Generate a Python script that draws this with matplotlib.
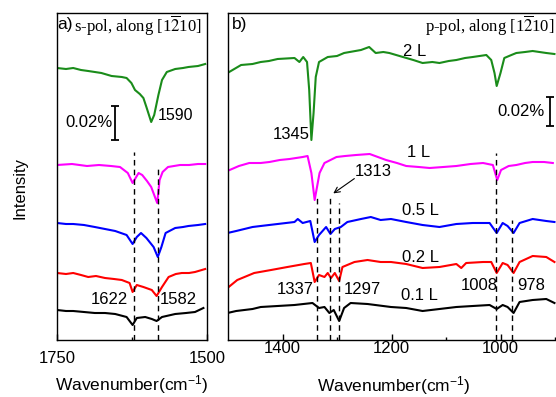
import numpy as np
import matplotlib.pyplot as plt

plt.rcParams['font.family'] = ['Liberation Sans', 'DejaVu Sans']
plt.rcParams['mathtext.fontset'] = 'custom'
plt.rcParams['mathtext.rm'] = 'Liberation Sans'
plt.rcParams['mathtext.it'] = 'Liberation Sans:italic'

# ---- panel a: s-pol, 1750-1500 cm-1 (values relative to each trace's own baseline) ----
wn_a_green = [1750, 1735, 1723, 1710, 1698, 1676, 1659, 1642, 1634, 1626, 1620, 1612, 1606, 1601, 1593, 1588, 1581,
              1575, 1567, 1553, 1540, 1531, 1515, 1503]
int_a_green = [2, 1, 2, 0, -1, -3, -6, -7, -8, -13, -20, -24, -28, -37, -52, -45, -25,
               -10, -2, 1, 2, 3, 4, 6]

wn_a_mag = [1750, 1725, 1700, 1680, 1660, 1645, 1632, 1624, 1618, 1614, 1608, 1600, 1593, 1588, 1583, 1579, 1574,
            1565, 1545, 1530, 1515, 1503]
int_a_mag = [0, 1, -1, 0, -1, -2, -8, -18, -12, -8, -10, -16, -22, -30, -38, -15, -7,
             -2, 0, 0, 1, 1]

wn_a_blue = [1750, 1735, 1723, 1705, 1687, 1670, 1653, 1634, 1624, 1617, 1610, 1601, 1589, 1582, 1576, 1569, 1553,
             1540, 1531, 1515, 1503]
int_a_blue = [2, 1, 1, 0, -2, -4, -6, -10, -19, -12, -8, -13, -22, -32, -22, -8, -3,
              -2, -1, 0, 1]

wn_a_red = [1750, 1735, 1723, 1710, 1698, 1685, 1670, 1655, 1642, 1629, 1624, 1617, 1606, 1592, 1584, 1575, 1564,
            1552, 1542, 1530, 1520, 1503]
int_a_red = [2, 1, 2, 0, -2, -1, -3, -4, -5, -8, -17, -10, -12, -15, -21, -12, -2,
             1, 2, 2, 3, 6]

wn_a_black = [1750, 1735, 1723, 1705, 1687, 1670, 1653, 1634, 1624, 1617, 1603, 1592, 1584, 1575, 1553, 1535, 1520, 1506]
int_a_black = [2, 1, 1, 0, -1, -1, -2, -5, -13, -6, -5, -7, -9, -5, -2, -1, 0, 4]

# ---- panel b: p-pol, 1500-900 cm-1 ----
wn_b_green = [1501, 1476, 1455, 1440, 1425, 1409, 1378, 1369, 1362, 1355, 1351, 1347, 1343, 1339, 1333, 1317, 1300,
              1287, 1256, 1241, 1229, 1215, 1204, 1179, 1160, 1143, 1125, 1112, 1095, 1081, 1065, 1051, 1026, 1017,
              1011, 1007, 1000, 993, 980, 971, 955, 941, 916, 901]
int_b_green = [-13, -5, -4, -2, -1, 1, 2, -2, 3, -2, -30, -80, -53, -17, -2, 3, 4,
               7, 10, 13, 7, 8, 7, 3, 0, -3, -2, -3, -1, 0, 2, 3, 5, 0,
               -13, -26, -13, 2, 5, 7, 8, 9, 7, 6]

wn_b_mag = [1497, 1480, 1461, 1440, 1424, 1405, 1387, 1363, 1354, 1347, 1341, 1332, 1323, 1301, 1285, 1265, 1240,
            1225, 1210, 1190, 1173, 1150, 1130, 1105, 1081, 1055, 1032, 1014, 1006, 999, 985, 971, 955, 941, 920, 904]
int_b_mag = [-8, -4, -1, -1, 0, 2, 3, 5, 6, -11, -38, -11, -1, 5, 6, 7, 8,
             5, 2, -1, -4, -5, -6, -5, -4, -2, -1, -3, -18, -8, -4, -3, -1, 0, 0, -1]

wn_b_blue = [1501, 1485, 1470, 1455, 1440, 1409, 1378, 1372, 1363, 1349, 1341, 1333, 1320, 1312, 1304, 1293, 1281,
             1256, 1238, 1220, 1201, 1173, 1143, 1112, 1081, 1051, 1020, 1007, 996, 987, 976, 965, 941, 916, 901]
int_b_blue = [-8, -6, -4, -2, -1, 1, 3, 6, 2, 4, -17, -10, -2, -9, -4, -2, 3,
              6, 8, 5, 6, 3, 0, -2, 1, 2, 2, -8, 2, -1, -8, 2, 6, 4, 3]

wn_b_red = [1501, 1483, 1452, 1421, 1391, 1360, 1348, 1341, 1333, 1323, 1317, 1311, 1304, 1296, 1290, 1268, 1244,
            1220, 1201, 1173, 1143, 1112, 1081, 1072, 1063, 1032, 1017, 1007, 996, 987, 976, 965, 941, 916, 901]
int_b_red = [-18, -10, -3, 0, 3, 6, 7, -12, -5, -7, -3, -8, -3, -11, 3, 8, 10,
             8, 8, 6, 2, 3, 6, 2, 7, 8, 8, -3, 7, 5, -3, 8, 14, 13, 8]

wn_b_black = [1501, 1485, 1470, 1455, 1440, 1409, 1378, 1345, 1333, 1323, 1314, 1306, 1296, 1287, 1275, 1244, 1201,
              1173, 1143, 1112, 1081, 1051, 1020, 1007, 996, 987, 976, 965, 941, 916, 901]
int_b_black = [-5, -3, -2, -1, 1, 2, 3, 5, 0, 1, -5, -2, -13, 0, 5, 4, 1,
               0, -3, -1, 1, 2, 3, -1, 3, 1, -5, 6, 8, 9, 5]

labels_b = ['2 L', '1 L', '0.5 L', '0.2 L', '0.1 L']
peaks_a = [1622, 1582]
peaks_b = [1337, 1313, 1297, 1008, 978]

colors = ['#1a8c1a', '#ff00ff', '#0000ff', '#ff0000', '#000000']
offs_a = [270, 175, 115, 65, 28]
offs_b = [280, 178, 115, 70, 32]

fig = plt.figure(figsize=(5.56, 3.97), dpi=100)
axa = fig.add_axes([57/556, 57/397, 150/556, 327/397])
axb = fig.add_axes([228/556, 57/397, 332/556, 327/397])

series_a = [(wn_a_green, int_a_green), (wn_a_mag, int_a_mag), (wn_a_blue, int_a_blue),
            (wn_a_red, int_a_red), (wn_a_black, int_a_black)]
series_b = [(wn_b_green, int_b_green), (wn_b_mag, int_b_mag), (wn_b_blue, int_b_blue),
            (wn_b_red, int_b_red), (wn_b_black, int_b_black)]

for (w, v), c, o in zip(series_a, colors, offs_a):
    axa.plot(w, np.array(v) + o, color=c, lw=1.5)
for (w, v), c, o in zip(series_b, colors, offs_b):
    axb.plot(w, np.array(v) + o, color=c, lw=1.5)

# dashed guide lines
tops_a = [188, 172]
for p, t in zip(peaks_a, tops_a):
    axa.plot([p, p], [0, t], color='k', ls=(0, (4, 3)), lw=1)
tops_b = [142, 145, 137, 187, 120]
for p, t in zip(peaks_b, tops_b):
    axb.plot([p, p], [0, t], color='k', ls=(0, (4, 3)), lw=1)

# scale bars
axa.errorbar([1653], [217], yerr=[17], color='k', capsize=3, lw=1.3, capthick=1.3)
axa.text(1658, 217, '0.02%', ha='right', va='center', fontsize=12)
axb.errorbar([910], [228], yerr=[14.5], color='k', capsize=3, lw=1.3, capthick=1.3)
axb.text(919, 228, '0.02%', ha='right', va='center', fontsize=12)

# peak labels
axa.text(1582, 224, '1590', ha='left', va='center', fontsize=11.5)
axa.text(1632, 40, '1622', ha='right', va='center', fontsize=12)
axa.text(1578, 40, '1582', ha='left', va='center', fontsize=12)

axb.text(1350, 205, '1345', ha='right', va='center', fontsize=12)
axb.text(1268, 168, '1313', ha='left', va='center', fontsize=12)
axb.annotate('', xy=(1311, 145), xytext=(1264, 163),
             arrowprops=dict(arrowstyle='->', color='k', lw=0.8))
axb.text(1343, 51, '1337', ha='right', va='center', fontsize=12)
axb.text(1288, 51, '1297', ha='left', va='center', fontsize=12)
axb.text(1005, 54, '1008', ha='right', va='center', fontsize=12)
axb.text(969, 54, '978', ha='left', va='center', fontsize=12)

lab_pos = [(1178, 288), (1172, 187), (1180, 129), (1180, 83), (1183, 44)]
for t, (x, y) in zip(labels_b, lab_pos):
    axb.text(x, y, t, ha='left', va='center', fontsize=12)

# panel titles
axa.text(1749, 315, 'a)', ha='left', va='center', fontsize=12.5)
axa.text(1722, 314, r's-pol, along [1$\overline{2}$10]', ha='left', va='center',
         fontsize=12, family='Liberation Serif', math_fontfamily='stix')
axb.text(1492, 315, 'b)', ha='left', va='center', fontsize=12.5)
axb.text(901, 314, r'p-pol, along [1$\overline{2}$10]', ha='right', va='center',
         fontsize=12, family='Liberation Serif', math_fontfamily='stix')

axa.set_xlim(1750, 1500)
axb.set_xlim(1500, 1500 - 332/0.545)
for ax in (axa, axb):
    ax.set_ylim(0, 327)
    ax.set_yticks([])
    for s in ax.spines.values():
        s.set_linewidth(1.0)
    ax.tick_params(axis='x', direction='in', top=False, labelsize=12, length=4.5, width=1)
    ax.tick_params(axis='x', which='minor', direction='in', top=False, length=2.5, width=1)

axa.set_xticks([1750, 1500])
axa.set_xticks([1625], minor=True)
axa.tick_params(axis='x', pad=8)
axb.set_xticks([1400, 1200, 1000])
axb.set_xticks([1300, 1100, 900], minor=True)
axb.tick_params(axis='x', pad=1)

axa.set_xlabel(r'Wavenumber(cm$^{\mathrm{-1}}$)', fontsize=12.5, labelpad=5)
axb.set_xlabel(r'Wavenumber(cm$^{\mathrm{-1}}$)', fontsize=12.5, labelpad=13)
fig.text(20/556, 1 - 188/397, 'Intensity', rotation=90, ha='center', va='center', fontsize=12)

fig.savefig('out.png', dpi=100)
